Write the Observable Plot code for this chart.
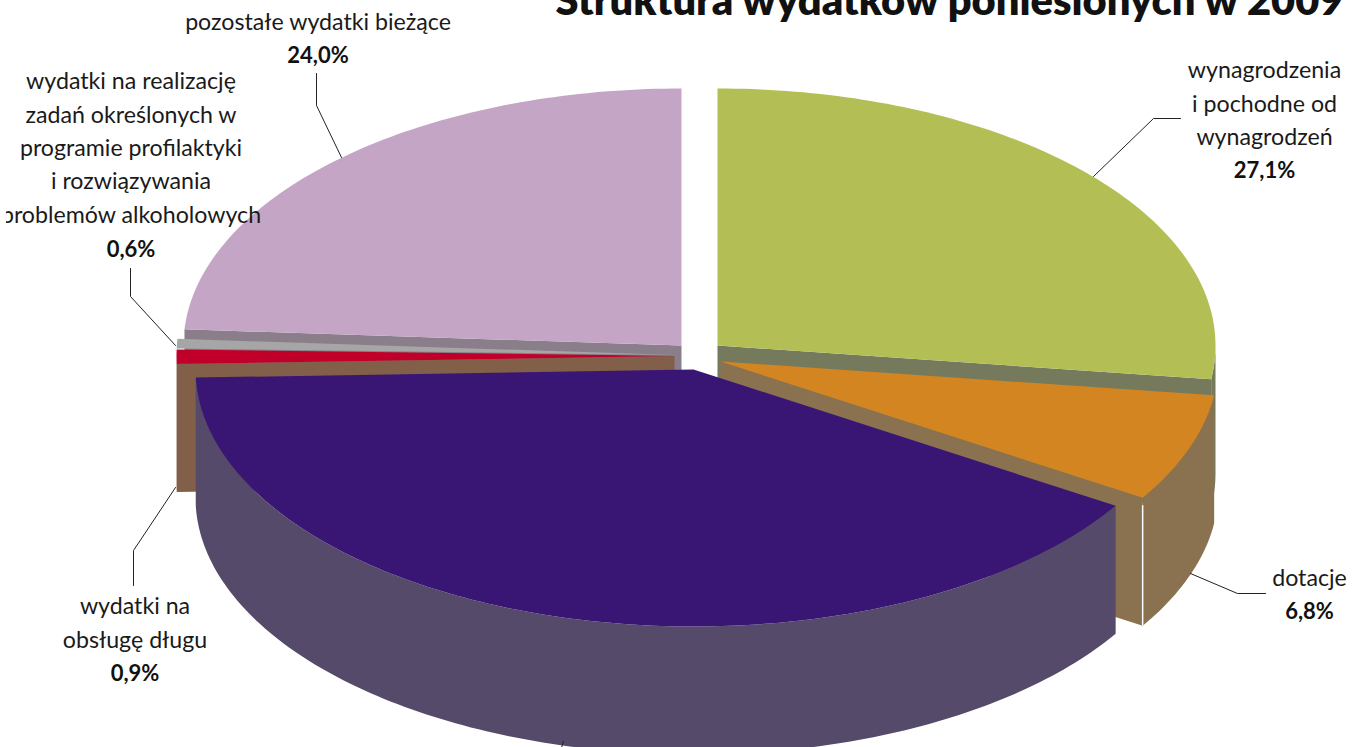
<!DOCTYPE html>
<html lang="pl">
<head>
<meta charset="utf-8">
<style>html,body{margin:0;padding:0;background:#fff;overflow:hidden}svg{display:block}</style>
<script src="https://cdn.jsdelivr.net/npm/d3@7"></script>
<script src="https://cdn.jsdelivr.net/npm/@observablehq/plot@0.6"></script>
</head>
<body>
<div id="chart"></div>
<script>
// ---- data ----
const chartTitle = "Struktura wydatków poniesionych w 2009";
const slices = ["wynagrodzenia", "dotacje", "wydatki bieżące", "obsługa długu", "realizacja zadań", "pozostałe"];
const shares = [27.1, 6.8, 40.6, 0.9, 0.6, 24.0];
const topColors = ["#b3bf55", "#d38522", "#3a1674", "#c00028", "#a6a6a6", "#c5a5c5"];
const wallColors = ["#757a5c", "#8a7250", "#554a69", "#815f49", "#8a7f8a", "#8a7e8b"];

const labelText = [
  "pozostałe wydatki bieżące",
  "wydatki na realizację\nzadań określonych w\nprogramie profilaktyki\ni rozwiązywania\nproblemów alkoholowych",
  "wynagrodzenia\ni pochodne od\nwynagrodzeń",
  "dotacje",
  "wydatki na\nobsługę długu"
];
const labelShare = ["24,0%", "0,6%", "27,1%", "6,8%", "0,9%"];

// ---- layout of the exploded 3-D pie ----
const radiusX = 498, radiusY = 257, depth = 128;
const apexX = [717, 720, 693, 674, 674, 681];
const apexY = [345, 361, 369, 355.5, 354.5, 345];
const labelX = [317.5, 130.5, 1264, 1309, 134.5];
const labelY = [22, 82, 71, 578, 607];
const shareY = [55, 249, 170, 611, 673];
const leaders = [
  [[316, 73], [316, 105], [341, 157]],
  [[130, 268], [130, 296], [175, 345]],
  [[133, 585], [133, 550], [175, 487]],
  [[1180, 118], [1153, 118], [1093, 176]],
  [[1190, 573], [1237, 593], [1265, 593]],
  [[560, 750], [563, 741]]
];

// ---- slice geometry derived from the shares ----
const total = d3.sum(shares);
const edges = [0, ...d3.cumsum(shares)].map(v => v / total * 360);
const rad = d => d * Math.PI / 180;
const rim = (i, a, dz = 0) => ({
  x: apexX[i] + radiusX * Math.sin(rad(a)),
  y: apexY[i] - radiusY * Math.cos(rad(a)) + dz
});
const arc = (i, a0, a1, dz = 0) => {
  const n = Math.max(2, Math.ceil(Math.abs(a1 - a0)));
  return d3.range(n + 1).map(k => rim(i, a0 + (a1 - a0) * k / n, dz));
};
const upper = i => [{x: apexX[i], y: apexY[i]}, ...arc(i, edges[i], edges[i + 1])];
const wall = (i, a0, a1) => [...arc(i, a0, a1), ...arc(i, a1, a0, depth)];
const face = (i, a) => {
  const p = rim(i, a);
  return [{x: apexX[i], y: apexY[i]}, p, {x: p.x, y: p.y + depth}, {x: apexX[i], y: apexY[i] + depth}];
};
const poly = (points, key) => Plot.line(points.map(p => ({...p, key})), {
  x: "x", y: "y", fill: "key", stroke: "none"
});
const wallKey = i => slices[i] + " (bok)";
const [GREEN, ORANGE, PURPLE, RED, GRAY, PINK] = [0, 1, 2, 3, 4, 5];

const pieMarks = [
  // back to front
  poly(face(PINK, edges[PINK]), wallKey(PINK)),
  poly(upper(PINK), slices[PINK]),
  poly(face(GREEN, edges[GREEN + 1]), wallKey(GREEN)),
  poly(wall(GREEN, 90, edges[GREEN + 1]), wallKey(GREEN)),
  poly(upper(GREEN), slices[GREEN]),
  poly(upper(GRAY), slices[GRAY]),
  poly(face(RED, edges[RED]), wallKey(RED)),
  poly(wall(RED, edges[RED], 270), wallKey(RED)),
  poly(upper(RED), slices[RED]),
  poly(face(ORANGE, edges[ORANGE + 1]), wallKey(ORANGE)),
  poly(wall(ORANGE, edges[ORANGE], edges[ORANGE + 1]), wallKey(ORANGE)),
  poly(upper(ORANGE), slices[ORANGE]),
  poly(wall(PURPLE, edges[PURPLE], edges[PURPLE + 1]), wallKey(PURPLE)),
  poly(upper(PURPLE), slices[PURPLE])
];

const corner = rim(ORANGE, edges[ORANGE + 1]);
const font = "Lato";
const labelRows = labelText.map((text, i) => ({text, x: labelX[i], y: labelY[i]}));
const shareRows = labelShare.map((text, i) => ({text, x: labelX[i], y: shareY[i]}));
const leaderRows = leaders.flatMap((pts, id) => pts.map(([x, y]) => ({id, x, y})));

const chart = Plot.plot({
  width: 1352,
  height: 747,
  margin: 0,
  style: {background: "#fff"},
  x: {domain: [0, 1352], range: [0, 1352], axis: null},
  y: {domain: [0, 747], range: [0, 747], axis: null},
  color: {
    type: "ordinal",
    domain: [...slices, ...slices.map((_, i) => wallKey(i))],
    range: [...topColors, ...wallColors]
  },
  marks: [
    ...pieMarks,
    Plot.ruleX([corner.x], {y1: corner.y + 8, y2: corner.y + depth, stroke: "#fff", strokeWidth: 1.5}),
    Plot.line(leaderRows, {x: "x", y: "y", z: "id", stroke: "#222", strokeWidth: 1}),
    Plot.text(labelRows.filter(d => !d.text.includes("\n")), {
      x: "x", y: "y", text: "text", textAnchor: "middle", lineAnchor: "middle",
      fontFamily: font, fontSize: 23.2, fill: "#1a1a1a"
    }),
    Plot.text(labelRows.filter(d => d.text.includes("\n")), {
      x: "x", y: "y", text: "text", textAnchor: "middle", lineAnchor: "top", dy: -17, lineHeight: 1.44,
      fontFamily: font, fontSize: 23.2, fill: "#1a1a1a"
    }),
    Plot.text(shareRows, {
      x: "x", y: "y", text: "text", textAnchor: "middle", lineAnchor: "middle",
      fontFamily: font, fontSize: 22, fontWeight: 700, fill: "#111"
    }),
    Plot.text([chartTitle], {
      x: [949], y: [14], text: d => d, textAnchor: "middle", lineAnchor: "bottom",
      fontFamily: font, fontSize: 41.6, fontWeight: 800, fill: "#111"
    }),
    // the reference's plot area cuts its longest label at the left edge
    Plot.rect([0], {x1: [0], x2: [6], y1: [200], y2: [232], fill: "#fff"})
  ]
});
document.getElementById("chart").append(chart);
</script>
</body>
</html>
